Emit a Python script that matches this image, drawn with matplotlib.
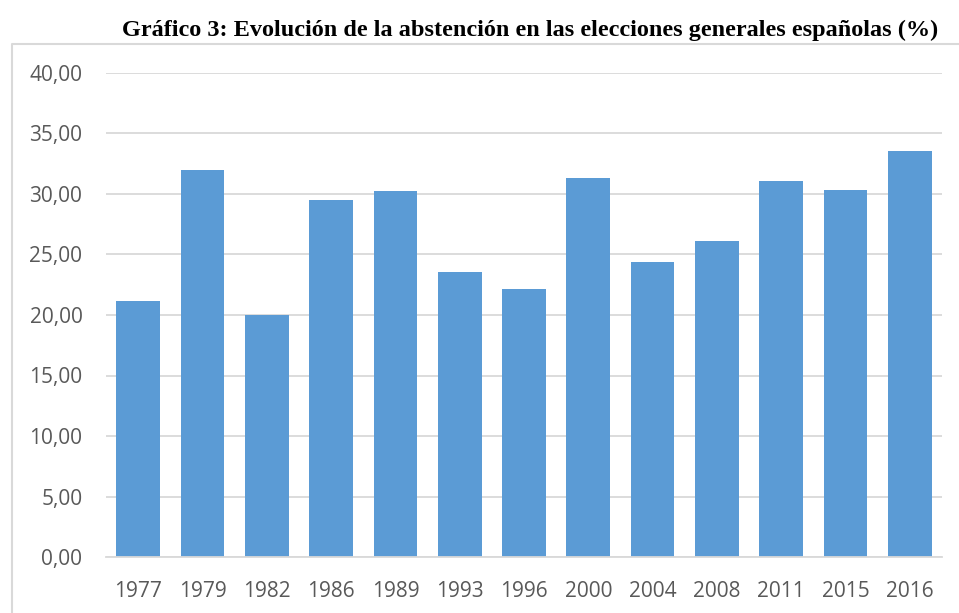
import matplotlib
matplotlib.use("Agg")
import matplotlib.pyplot as plt
from matplotlib.lines import Line2D
from matplotlib.ticker import FuncFormatter

# Datos: abstención en elecciones generales (%)
years = ["1977", "1979", "1982", "1986", "1989", "1993", "1996",
         "2000", "2004", "2008", "2011", "2015", "2016"]
abstention = [21.17, 31.97, 20.03, 29.51, 30.26, 23.56, 22.15,
              31.29, 24.34, 26.15, 31.06, 30.33, 33.52]
y_ticks = [0, 5, 10, 15, 20, 25, 30, 35, 40]

BAR_COLOR = "#5B9BD5"
GRID_COLOR = "#D9D9D9"
TEXT_COLOR = "#595959"
W, H = 959, 613

fig = plt.figure(figsize=(W / 100, H / 100), dpi=100)
ax = fig.add_axes([106 / W, 1 - 557 / H, (942 - 106) / W, (557 - 73) / H])

x = range(len(years))
ax.bar(x, abstention, width=0.68, color=BAR_COLOR, zorder=3)

ax.set_xlim(-0.5, len(years) - 0.5)
ax.set_ylim(0, 40)
ax.set_yticks(y_ticks)
ax.yaxis.set_major_formatter(FuncFormatter(lambda v, _: f"{v:.2f}".replace(".", ",")))
ax.set_xticks(list(x))
ax.set_xticklabels(years)

ax.grid(axis="y", color=GRID_COLOR, linewidth=1.3, zorder=0)
for side in ("top", "right", "left"):
    ax.spines[side].set_visible(False)
ax.spines["bottom"].set_color(GRID_COLOR)
ax.spines["bottom"].set_linewidth(1.3)
ax.spines["bottom"].set_zorder(4)

ax.tick_params(axis="both", length=0, labelsize=15, labelcolor=TEXT_COLOR)
ax.tick_params(axis="y", pad=17)
ax.tick_params(axis="x", pad=17)
for lbl in ax.get_xticklabels() + ax.get_yticklabels():
    lbl.set_fontfamily("Open Sans")

# Marco del área del gráfico (izquierda y arriba)
fig.add_artist(Line2D([12 / W, 12 / W, 1.0], [0.0, 1 - 44 / H, 1 - 44 / H],
                      transform=fig.transFigure, color=GRID_COLOR, linewidth=1.5))

fig.text(530 / W, 1 - 30 / H,
         "Gráfico 3: Evolución de la abstención en las elecciones generales españolas (%)",
         ha="center", va="center", fontsize=17.5, fontweight="bold",
         family="Liberation Serif", color="black")

fig.savefig("out.png", dpi=100)
